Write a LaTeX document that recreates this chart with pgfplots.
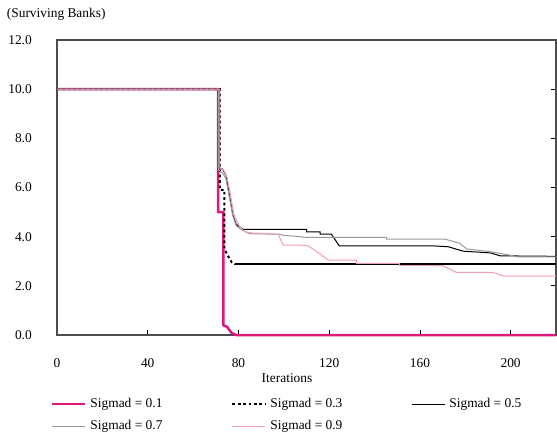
\documentclass[border=0pt]{standalone}
\usepackage{fontspec}
\setmainfont{Liberation Serif}
\usepackage{pgfplots}
\pgfplotsset{compat=1.18}
\definecolor{cmag}{HTML}{E0187A}
\definecolor{cpink}{HTML}{F29BC0}
\definecolor{cgray}{HTML}{999999}
\begin{document}
\fontsize{13.4}{16}\selectfont
\begin{tikzpicture}
\begin{axis}[
 scale only axis, width=499pt, height=295pt,
 xmin=0, xmax=220, ymin=0, ymax=12,
 xtick={0,40,...,200}, ytick={0,2,...,12},
 tick align=inside,
 xtick pos=bottom, ytick pos=right,
 yticklabel pos=left, xticklabel pos=bottom,
 yticklabel style={/pgf/number format/fixed, /pgf/number format/fixed zerofill, /pgf/number format/precision=1},
 /pgf/number format/assume math mode=true,
 major tick length=5.5pt,
 every tick/.style={black, line width=0.8pt},
 axis line style={black!70, line width=1.1pt},
 clip=false,
 yticklabel style={inner sep=0pt, anchor=east, xshift=-25pt},
 xticklabel style={inner sep=0pt, anchor=north, yshift=-23.5pt},
 xlabel={Iterations},
 xlabel style={at={(axis description cs:0.461,-0.1458)}, anchor=center, inner sep=0pt},
 legend columns=3,
 legend cell align=left,
 legend style={at={(axis description cs:0,0)}, anchor=north west, xshift=-6pt, yshift=-63pt,
   draw=none, fill=none, inner sep=0pt, outer sep=0pt, row sep=10pt,
   nodes={inner sep=0pt, text height=9pt, text depth=3pt},
   /tikz/every odd column/.append style={column sep=4pt},
   /tikz/every even column/.append style={column sep=69pt}},
 legend image code/.code={\draw[#1] (0pt,0pt) -- (33pt,0pt);},
]
\addplot[cmag, line width=2.5pt] coordinates {(0,10) (71,10) (71,5) (73.3,5) (73.3,0.4) (75,0.33) (76,0.2) (77,0.08) (79,0) (220,0)};
\addlegendentry{Sigmad = 0.1}
\addplot[black, line width=2pt, dash pattern=on 2.7pt off 2.7pt] coordinates {(0,10) (71.8,10) (71.8,5.9) (73.8,5.9) (73.8,3.5) (75.5,3.2) (77,2.96) (78.5,2.87)};
\addlegendentry{Sigmad = 0.3}
\addplot[black, line width=2pt, forget plot] coordinates {(78.5,2.87) (220,2.87)};
\addplot[black, line width=1pt] coordinates {(0,10) (71.5,10) (71.5,6.8) (73,6.75) (74.5,6.5) (76,5.7) (77.5,4.9) (79,4.5) (80.5,4.4) (82,4.3) (110,4.3) (110,4.2) (116,4.2) (116,4.1) (121,4.1) (124.4,3.63) (165,3.63) (172.5,3.59) (179,3.41) (191,3.34) (195.4,3.22) (220,3.2)};
\addlegendentry{Sigmad = 0.5}
\addplot[cgray, line width=1pt] coordinates {(0,10) (71.3,10) (71.3,6.7) (73,6.6) (74.5,6.35) (76,5.6) (77.5,4.85) (79,4.45) (81,4.3) (83,4.2) (85,4.12) (98,4.1) (100,4.05) (105,4.02) (110,3.97) (145.3,3.97) (145.3,3.9) (171,3.9) (177.6,3.73) (180.6,3.5) (191,3.39) (199.6,3.25) (202.6,3.18) (220,3.18)};
\addlegendentry{Sigmad = 0.7}
\addplot[cpink, line width=1pt] coordinates {(0,10) (71.8,10) (71.8,6.8) (73.5,6.7) (75,6.4) (76.5,5.7) (78,4.9) (79.5,4.6) (80.6,4.4) (82.8,4.2) (86,4.15) (97.5,4.1) (99.7,3.66) (107,3.66) (110.6,3.63) (113.5,3.46) (119.6,3.05) (132,3.05) (132,2.91) (151,2.91) (151,2.82) (170,2.82) (176,2.55) (192,2.55) (197,2.4) (220,2.4)};
\addlegendentry{Sigmad = 0.9}
\node[anchor=base west, inner sep=0pt, xshift=-50.3pt, yshift=22.4pt] at (rel axis cs:0,1) {(Surviving Banks)};
\coordinate (bl) at (rel axis cs:0,0);
\coordinate (tr) at (rel axis cs:1,1);
\end{axis}
\pgfresetboundingbox
\path[use as bounding box] ([xshift=-57pt,yshift=-99pt]bl) rectangle ([xshift=1pt,yshift=40pt]tr);
\end{tikzpicture}
\end{document}
